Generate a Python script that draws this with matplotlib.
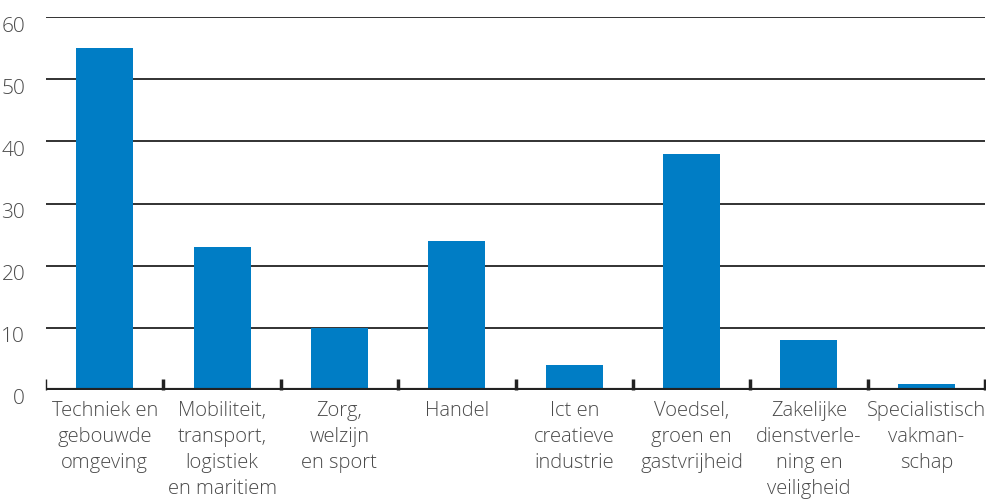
import numpy as np
import matplotlib.pyplot as plt
import matplotlib.transforms as mtransforms

plt.rcParams['font.family'] = ['Open Sans', 'DejaVu Sans']
plt.rcParams['font.weight'] = 'light'

categories = ['Techniek en\ngebouwde\nomgeving',
              'Mobiliteit,\ntransport,\nlogistiek\nen maritiem',
              'Zorg,\nwelzijn\nen sport',
              'Handel',
              'Ict en\ncreatieve\nindustrie',
              'Voedsel,\ngroen en\ngastvrijheid',
              'Zakelijke\ndienstverle-\nning en\nveiligheid',
              'Specialistisch\nvakman-\nschap']
values = [55, 23, 10, 24, 4, 38, 8, 1]
yticks = [0, 10, 20, 30, 40, 50, 60]

text_col = '#4a4a4a'
bar_col = '#007DC5'

fig = plt.figure(figsize=(9.87, 5.01), dpi=100)
ax = fig.add_axes([0.0466, 0.2216, 0.9514, 0.7444])

x = np.arange(len(values))
ax.bar(x, values, width=0.485, color=bar_col, zorder=3)

ax.set_xlim(-0.5, len(values) - 0.5)
ax.set_ylim(0, 60)

# gridlines
for v in yticks[1:]:
    ax.axhline(v, color='#222222', lw=1.3, zorder=1)
ax.axhline(0, color='#222222', lw=3, zorder=4)

for s in ax.spines.values():
    s.set_visible(False)

# y labels
ax.set_yticks(yticks)
ax.set_yticklabels([str(v) for v in yticks], fontsize=15, color=text_col)
ax.tick_params(axis='y', length=0, pad=15)
off = mtransforms.ScaledTranslation(0, -7 / 100, fig.dpi_scale_trans)
for lab in ax.get_yticklabels():
    lab.set_transform(lab.get_transform() + off)

# x boundary ticks
ax.set_xticks(np.arange(len(values) + 1) - 0.5, minor=True)
ax.tick_params(axis='x', which='minor', direction='in', length=8, width=2.5, color='#222222')
ax.xaxis.get_minor_ticks()[0].tick1line.set_color('#cccccc')
ax.xaxis.get_minor_ticks()[0].tick1line.set_markeredgewidth(1)
ax.set_xticks(x)
ax.set_xticklabels(categories, fontsize=14.5, color=text_col, linespacing=1.4)
ax.tick_params(axis='x', which='major', length=0, pad=8)

fig.savefig('out.png', dpi=100)
